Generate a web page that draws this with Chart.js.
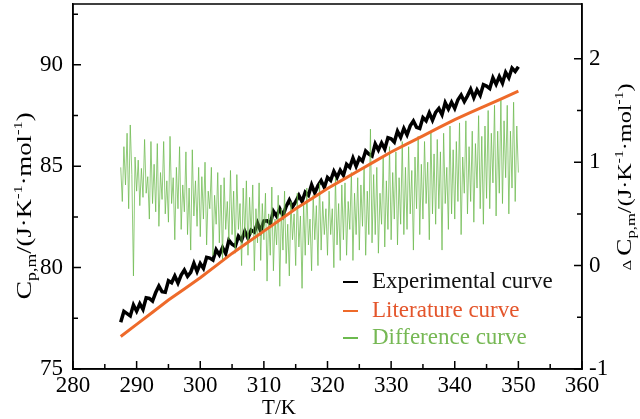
<!DOCTYPE html>
<html><head><meta charset="utf-8">
<script src="https://cdn.jsdelivr.net/npm/chart.js@4/dist/chart.umd.min.js"></script>
<style>html,body{margin:0;padding:0;background:#fff}#wrap{width:640px;height:419px}</style>
</head><body><div id="wrap"><canvas id="c" width="640" height="419"></canvas></div>
<script>
// ---- data ----
const expStart = 287.5, expStep = 0.5;   // T/K of first point and spacing
const expValues = [
 77.3,77.84,77.73,77.62,78.16,77.85,78.22,77.94,78.51,78.48,
 78.35,78.77,79.09,78.81,78.78,79.35,79.25,79.59,79.24,79.63,
 79.88,79.57,79.77,80.21,79.81,80.2,79.96,80.51,80.47,80.37,
 80.88,80.63,80.99,80.69,81.35,81.15,81.05,81.55,81.35,81.8,
 81.45,81.85,81.75,82.2,81.8,82.3,82.31,82.17,82.78,82.54,
 82.9,82.56,83.02,83.33,82.99,83.25,83.56,83.26,83.72,83.57,
 84.08,83.68,84.04,84.29,83.95,84.45,84.3,84.75,84.45,84.8,
 84.55,85.1,84.95,85.4,85.0,85.4,85.25,85.75,85.6,85.5,
 86.1,85.8,86.15,85.85,86.4,86.35,86.19,86.73,86.42,86.86,
 86.55,86.99,87.23,86.92,86.86,87.4,87.24,87.63,87.27,87.66,
 87.85,87.54,88.13,87.82,88.16,87.85,88.28,88.51,88.19,88.47,
 88.8,88.38,88.76,88.49,89.02,88.95,88.83,89.36,89.04,89.42,
 89.1,89.63,89.36,89.84,89.67,89.9
];
const litT = [287.5,290,292.5,295,297.5,300,302.5,305,307.5,310,312.5,315,317.5,320,322.5,325,327.5,330,332.5,335,337.5,340,342.5,345,347.5,350];
const litValues = [76.6,77.2,77.8,78.4,78.95,79.5,80.1,80.7,81.25,81.8,82.35,82.9,83.4,83.9,84.35,84.8,85.25,85.7,86.1,86.5,86.9,87.3,87.65,88.0,88.35,88.7];
const diffStart = 287.5, diffStep = 0.25;
const diffValues = [
 0.95,0.62,1.15,0.78,1.28,0.55,1.36,0.88,-0.1,1.05,
 0.72,1.02,0.58,0.94,0.66,1.22,0.7,0.86,0.45,1.2,
 0.6,0.98,0.52,1.18,0.38,0.9,0.64,1.2,0.5,0.82,
 0.42,1.25,0.6,0.85,0.25,0.95,0.55,1.15,0.35,0.78,
 0.52,1.1,0.3,0.75,0.15,1.12,0.48,0.82,0.38,0.95,
 0.28,0.86,0.45,1.0,0.2,0.72,0.55,0.95,0.1,0.68,
 0.4,0.9,0.22,0.78,0.05,0.85,0.35,0.62,0.25,0.92,
 0.3,0.72,0.12,0.88,0.35,0.6,0.0,0.75,0.28,0.82,
 0.1,0.66,0.3,0.78,-0.05,0.55,0.22,0.8,0.05,0.6,
 0.25,0.7,-0.15,0.5,0.1,0.76,-0.05,0.45,0.2,0.68,
 -0.2,0.55,0.15,0.72,0.02,0.4,-0.1,0.62,0.25,0.5,
 0.0,0.7,0.18,0.48,-0.22,0.6,0.1,0.75,0.2,0.45,
 -0.05,0.68,0.25,0.58,0.0,0.8,0.15,0.62,0.3,0.55,
 0.1,0.72,0.3,0.55,-0.02,0.85,0.2,0.6,0.05,0.78,
 0.25,0.8,0.1,0.62,0.35,0.9,0.05,0.7,0.3,0.85,
 0.15,0.78,0.38,0.95,0.1,0.72,0.3,1.32,0.22,0.88,
 0.3,0.95,0.12,0.7,0.4,1.05,0.18,0.82,0.35,1.15,
 0.25,0.9,0.45,1.1,0.2,0.85,0.4,1.2,0.3,0.95,
 0.35,1.15,0.5,0.92,0.15,1.05,0.55,1.25,0.3,0.98,
 0.45,1.2,0.6,1.0,0.25,1.3,0.5,1.08,0.4,1.22,
 0.55,1.1,0.15,1.28,0.6,0.95,0.35,1.35,0.5,1.12,
 0.45,1.2,0.62,1.38,0.3,1.05,0.7,1.4,0.5,1.15,
 0.62,1.3,0.42,1.18,0.75,1.45,0.55,1.25,0.4,1.35,
 0.65,1.5,0.55,1.28,0.8,1.55,0.48,1.3,0.7,1.6,
 0.6,1.4,0.85,1.55,0.5,1.3,0.75,1.58,0.62,1.35,
 0.9
];
const xTicks = [280,290,300,310,320,330,340,350,360];
const xMinor = [285,295,305,315,325,335,345,355];
const leftTicks = [75,80,85,90];
const leftMinor = [77.5,82.5,87.5,92.5];
const rightTicks = [-1,0,1,2];
const rightMinor = [-0.5,0.5,1.5];
const seriesLabels = ['Experimental curve','Literature curve','Difference curve'];
const xTitle = 'T/K';

// ---- styling ----
const FONT = '"Liberation Serif","Times New Roman",serif';
const colExp = '#000000', colLit = '#ee6a2a', colDiff = 'rgba(108,186,78,0.75)';
const legendText = ['#111111','#e4552b','#76b854'];

const overlay = {
  id:'overlay',
  afterDraw(chart){
    const ctx = chart.ctx, ca = chart.chartArea;
    const X = chart.scales.x, Y = chart.scales.y, Y1 = chart.scales.y1;
    ctx.save();
    ctx.strokeStyle = '#000'; ctx.lineWidth = 1.5;
    ctx.strokeRect(ca.left, ca.top, ca.right-ca.left, ca.bottom-ca.top);
    ctx.beginPath();
    const tk = (vals, len, fn) => vals.forEach(v => fn(v, len));
    tk(xTicks, 8, (v,l)=>{const p=X.getPixelForValue(v); ctx.moveTo(p,ca.bottom); ctx.lineTo(p,ca.bottom-l);});
    tk(xMinor, 5, (v,l)=>{const p=X.getPixelForValue(v); ctx.moveTo(p,ca.bottom); ctx.lineTo(p,ca.bottom-l);});
    tk(leftTicks, 8, (v,l)=>{const p=Y.getPixelForValue(v); ctx.moveTo(ca.left,p); ctx.lineTo(ca.left+l,p);});
    tk(leftMinor, 5, (v,l)=>{const p=Y.getPixelForValue(v); ctx.moveTo(ca.left,p); ctx.lineTo(ca.left+l,p);});
    tk(rightTicks, 8, (v,l)=>{const p=Y1.getPixelForValue(v); ctx.moveTo(ca.right,p); ctx.lineTo(ca.right-l,p);});
    tk(rightMinor, 5, (v,l)=>{const p=Y1.getPixelForValue(v); ctx.moveTo(ca.right,p); ctx.lineTo(ca.right-l,p);});
    ctx.stroke();

    // x title
    ctx.fillStyle = '#000';
    ctx.font = '21px ' + FONT; ctx.textAlign = 'center'; ctx.textBaseline = 'alphabetic';
    ctx.fillText(xTitle, 279, 414);

    // rotated rich titles
    function rich(segs, cx, cy, target){
      ctx.save(); ctx.translate(cx, cy); ctx.rotate(-Math.PI/2);
      let total = 0;
      segs.forEach(s=>{ctx.font = s.size+'px '+FONT; s.w = ctx.measureText(s.t).width; total += s.w;});
      ctx.scale(target/total, 1);
      let x = -total/2; ctx.textAlign='left'; ctx.textBaseline='alphabetic'; ctx.fillStyle='#000';
      segs.forEach(s=>{ctx.font = s.size+'px '+FONT; ctx.fillText(s.t, x, s.dy||0); x += s.w;});
      ctx.restore();
    }
    rich([{t:'C',size:22},{t:'p,m',size:14,dy:5},{t:'/(J·K',size:21},{t:'-1',size:13,dy:-9},{t:'·mol',size:21},{t:'-1',size:13,dy:-9},{t:')',size:21}], 31, 206, 187);
    rich([{t:'Δ ',size:13},{t:'C',size:20},{t:'p,m',size:13,dy:4},{t:'/(J·K',size:19},{t:'-1',size:12,dy:-8},{t:'·mol',size:19},{t:'-1',size:12,dy:-8},{t:')',size:19}], 631, 177, 187);

    // legend
    const ly = [282, 311, 338];
    const lc = [colExp, colLit, 'rgb(108,186,78)'];
    seriesLabels.forEach((lab,i)=>{
      ctx.strokeStyle = lc[i]; ctx.lineWidth = 2;
      ctx.beginPath(); ctx.moveTo(343, ly[i]); ctx.lineTo(358, ly[i]); ctx.stroke();
      ctx.fillStyle = legendText[i]; ctx.font = '23px ' + FONT;
      ctx.textAlign = 'left'; ctx.textBaseline = 'middle';
      ctx.fillText(lab, 372, ly[i]);
    });
    ctx.restore();
  }
};

const tickFont = {family: FONT, size: 23};
const noPad = s => { s.paddingTop = 0; s.paddingBottom = 0; s.paddingLeft = 0; s.paddingRight = 0; };
new Chart(document.getElementById('c'), {
  type: 'line',
  data: { datasets: [
    { label: seriesLabels[0], data: expValues.map((v,i)=>({x: expStart+i*expStep, y: v})),
      borderColor: colExp, borderWidth: 3.5, pointRadius: 0, yAxisID: 'y', order: 3, tension: 0 },
    { label: seriesLabels[1], data: litT.map((t,i)=>({x: t, y: litValues[i]})),
      borderColor: colLit, borderWidth: 3, pointRadius: 0, yAxisID: 'y', order: 1, tension: 0 },
    { label: seriesLabels[2], data: diffValues.map((v,i)=>({x: diffStart+i*diffStep, y: v})),
      borderColor: colDiff, borderWidth: 1, pointRadius: 0, yAxisID: 'y1', order: 2, tension: 0 }
  ]},
  options: {
    responsive: false, animation: false, devicePixelRatio: 1,
    layout: { padding: { top: 4, left: 0, right: 0, bottom: 0 } },
    plugins: { legend: { display: false }, tooltip: { enabled: false } },
    scales: {
      x: { type: 'linear', min: 280, max: 360,
        afterBuildTicks: s => { s.ticks = xTicks.map(v=>({value:v})); },
        afterFit: s => { s.height = 50; noPad(s); },
        grid: { display: false, drawTicks: false },
        border: { display: true, color: '#000', width: 1.5 },
        ticks: { font: tickFont, color: '#000', padding: 3, maxRotation: 0, autoSkip: false } },
      y: { type: 'linear', position: 'left', min: 75, max: 93,
        afterBuildTicks: s => { s.ticks = leftTicks.map(v=>({value:v})); },
        afterFit: s => { s.width = 73; noPad(s); },
        grid: { display: false, drawTicks: false },
        border: { display: true, color: '#000', width: 1.5 },
        ticks: { font: tickFont, color: '#000', padding: 10 } },
      y1: { type: 'linear', position: 'right', min: -1, max: 2.53,
        afterBuildTicks: s => { s.ticks = rightTicks.map(v=>({value:v})); },
        afterFit: s => { s.width = 58; noPad(s); },
        grid: { display: false, drawTicks: false },
        border: { display: true, color: '#000', width: 1.5 },
        ticks: { font: tickFont, color: '#000', padding: 7 } }
    }
  },
  plugins: [overlay]
});
</script></body></html>
